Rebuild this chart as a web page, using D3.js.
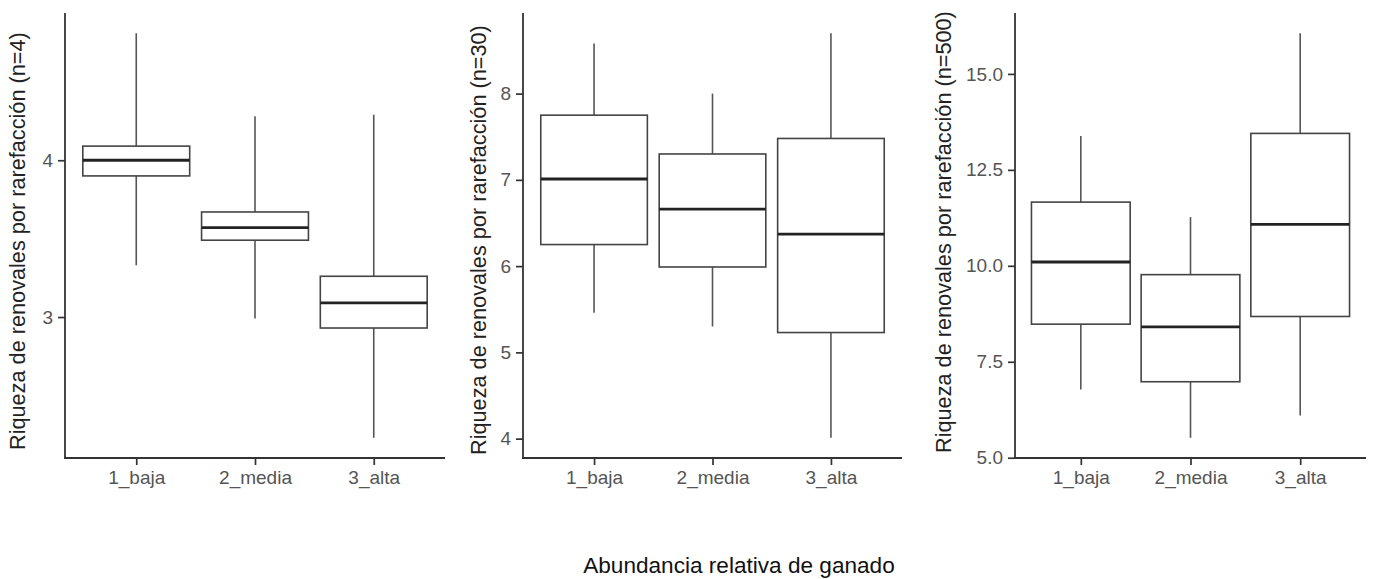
<!DOCTYPE html>
<html>
<head>
<meta charset="utf-8">
<script src="https://cdn.jsdelivr.net/npm/d3@7"></script>
<style>
  html, body { margin: 0; padding: 0; background: #fff; }
  svg { display: block; font-family: "Liberation Sans", Arial, sans-serif; }
  .axis line { stroke: #333; stroke-width: 1.7px; }
  .axis text { fill: #555; font-size: 19px; }
  .axis-line { stroke: #333; stroke-width: 1.8px; }
</style>
</head>
<body>
<svg id="chart" width="1374" height="579"></svg>
<script>
// Categories of relative livestock abundance
const categories = ["1_baja", "2_media", "3_alta"];

// Box statistics per rarefaction level: lower whisker, Q1, median, Q3, upper whisker
const n4Low  = [3.33, 2.99, 2.23];
const n4Q1   = [3.90, 3.49, 2.93];
const n4Med  = [4.00, 3.57, 3.09];
const n4Q3   = [4.09, 3.67, 3.26];
const n4High = [4.81, 4.28, 4.29];

const n30Low  = [5.46, 5.30, 4.01];
const n30Q1   = [6.25, 5.99, 5.23];
const n30Med  = [7.01, 6.66, 6.37];
const n30Q3   = [7.75, 7.30, 7.48];
const n30High = [8.58, 8.00, 8.70];

const n500Low  = [6.78, 5.52, 6.10];
const n500Q1   = [8.48, 6.98, 8.68];
const n500Med  = [10.10, 8.41, 11.08];
const n500Q3   = [11.66, 9.77, 13.45];
const n500High = [13.38, 11.27, 16.06];

// Y-axis tick values for each panel
const n4Ticks = [3, 4];
const n30Ticks = [4, 5, 6, 7, 8];
const n500Ticks = [5, 7.5, 10, 12.5, 15];

const yLabels = [
  "Riqueza de renovales por rarefacción (n=4)",
  "Riqueza de renovales por rarefacción (n=30)",
  "Riqueza de renovales por rarefacción (n=500)"
];
const xTitle = "Abundancia relativa de ganado";

const panels = [
  { low: n4Low, q1: n4Q1, med: n4Med, q3: n4Q3, high: n4High, ticks: n4Ticks, fmt: d3.format("d"),
    left: 65, right: 445, labelX: 25, labelY: 450, label: yLabels[0] },
  { low: n30Low, q1: n30Q1, med: n30Med, q3: n30Q3, high: n30High, ticks: n30Ticks, fmt: d3.format("d"),
    left: 523, right: 902, labelX: 486, labelY: 455, label: yLabels[1] },
  { low: n500Low, q1: n500Q1, med: n500Med, q3: n500Q3, high: n500High, ticks: n500Ticks, fmt: d3.format(".1f"),
    left: 1015, right: 1366, labelX: 951, labelY: 453, label: yLabels[2] }
];

const plotTop = 13, plotBottom = 458;
const svg = d3.select("#chart");

panels.forEach(p => {
  const lo = d3.min(p.low), hi = d3.max(p.high);
  const pad = (hi - lo) * 0.05;
  const y = d3.scaleLinear().domain([lo - pad, hi + pad]).range([plotBottom, plotTop]);
  // discrete positions 1..3 with 0.6 expansion on each side
  const x = d3.scaleLinear().domain([0.4, 3.6]).range([p.left, p.right]);
  const boxW = x(0.9) - x(0);

  const g = svg.append("g");

  // whiskers
  g.selectAll("line.whisker").data(categories).join("line")
    .attr("class", "whisker")
    .attr("x1", (d, i) => x(i + 1)).attr("x2", (d, i) => x(i + 1))
    .attr("y1", (d, i) => y(p.high[i])).attr("y2", (d, i) => y(p.low[i]))
    .attr("stroke", "#555").attr("stroke-width", 1.6);

  // boxes
  g.selectAll("rect.box").data(categories).join("rect")
    .attr("class", "box")
    .attr("x", (d, i) => x(i + 1) - boxW / 2)
    .attr("width", boxW)
    .attr("y", (d, i) => y(p.q3[i]))
    .attr("height", (d, i) => y(p.q1[i]) - y(p.q3[i]))
    .attr("fill", "#fff").attr("stroke", "#444").attr("stroke-width", 1.6);

  // medians
  g.selectAll("line.median").data(categories).join("line")
    .attr("class", "median")
    .attr("x1", (d, i) => x(i + 1) - boxW / 2).attr("x2", (d, i) => x(i + 1) + boxW / 2)
    .attr("y1", (d, i) => y(p.med[i])).attr("y2", (d, i) => y(p.med[i]))
    .attr("stroke", "#222").attr("stroke-width", 2.8);

  // axes (ticks and labels from d3, plain lines for the axis spines)
  const yAxis = d3.axisLeft(y).tickValues(p.ticks).tickFormat(p.fmt).tickSize(7).tickPadding(5);
  g.append("g").attr("class", "axis").attr("transform", `translate(${p.left},0)`)
    .call(yAxis).call(s => s.select(".domain").remove());

  const xAxis = d3.axisBottom(x).tickValues([1, 2, 3]).tickFormat(d => categories[d - 1])
    .tickSize(7).tickPadding(6);
  g.append("g").attr("class", "axis").attr("transform", `translate(0,${plotBottom})`)
    .call(xAxis).call(s => s.select(".domain").remove());

  g.append("line").attr("class", "axis-line")
    .attr("x1", p.left).attr("x2", p.left)
    .attr("y1", plotTop).attr("y2", plotBottom + 0.9);
  g.append("line").attr("class", "axis-line")
    .attr("x1", p.left - 0.9).attr("x2", p.right)
    .attr("y1", plotBottom).attr("y2", plotBottom);

  // y-axis title
  g.append("text")
    .attr("transform", `translate(${p.labelX},${p.labelY}) rotate(-90)`)
    .attr("text-anchor", "start")
    .attr("font-size", 21.7)
    .attr("fill", "#222")
    .text(p.label);
});

svg.append("text")
  .attr("x", 739).attr("y", 573)
  .attr("text-anchor", "middle")
  .attr("font-size", 22.6)
  .attr("fill", "#111")
  .text(xTitle);
</script>
</body>
</html>
